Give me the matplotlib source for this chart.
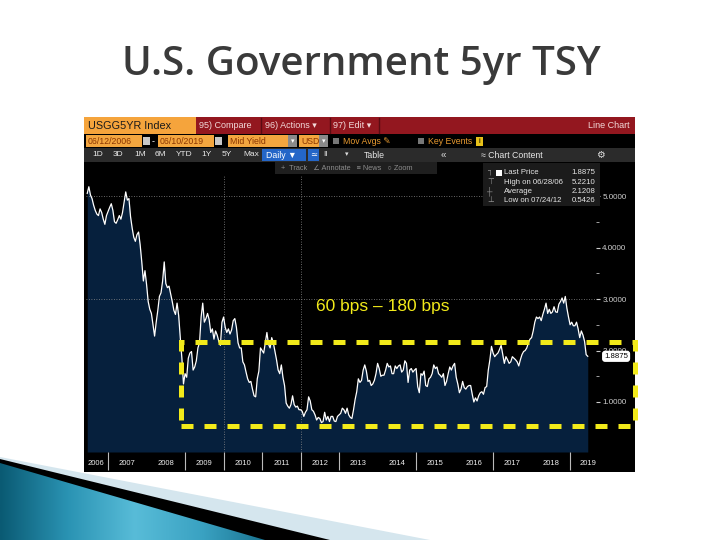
import numpy as np
import matplotlib
matplotlib.use("Agg")
import matplotlib.pyplot as plt
from matplotlib.patches import Rectangle, Polygon
from matplotlib.colors import LinearSegmentedColormap

plt.rcParams['font.family'] = ['Liberation Sans', 'DejaVu Sans']

y2006 = [5.05, 5.18, 5.02, 4.95, 4.82, 4.72, 4.65, 4.62, 4.75, 4.68, 4.55, 4.45, 4.62]
y2007 = [4.70, 4.78, 4.85, 4.72, 4.50, 4.47, 4.54, 4.62, 4.55, 4.68, 4.88, 5.08,
         4.92, 4.95, 4.60, 4.38, 4.20, 4.12, 4.25, 4.30, 4.05, 3.72, 3.35, 3.55]
y2008 = [3.28, 2.95, 2.80, 2.72, 2.50, 2.28, 2.55, 2.78, 3.05, 3.12, 3.35, 3.72,
         3.30, 3.22, 3.25, 3.10, 2.95, 2.78, 2.70, 2.92, 2.68, 2.25, 1.85, 1.35]
y2009 = [1.55, 1.48, 1.85, 1.95, 1.98, 1.62, 1.68, 1.80, 2.05, 2.15, 2.65, 2.92,
         2.55, 2.62, 2.72, 2.60, 2.35, 2.42, 2.22, 2.38, 2.30, 2.18, 2.10, 2.55]
y2010 = [2.65, 2.45, 2.35, 2.42, 2.32, 2.40, 2.58, 2.62, 2.45, 2.15, 2.05, 2.05,
         1.78, 1.72, 1.58, 1.45, 1.38, 1.40, 1.25, 1.12, 1.10, 1.45, 1.60, 2.05]
y2011 = [2.00, 1.95, 2.15, 2.35, 2.12, 2.05, 2.25, 2.15, 1.98, 1.82, 1.62, 1.55,
         1.72, 1.48, 1.32, 0.98, 0.92, 0.88, 0.95, 1.12, 0.95, 0.90, 0.92, 0.85]
y2012 = [0.85, 0.82, 0.72, 0.80, 0.85, 1.10, 1.02, 0.85, 0.82, 0.75, 0.65, 0.70,
         0.68, 0.60, 0.62, 0.80, 0.65, 0.72, 0.62, 0.72, 0.72, 0.63, 0.62, 0.72]
y2013 = [0.75, 0.78, 0.88, 0.85, 0.78, 0.88, 0.75, 0.70, 0.68, 0.85, 1.05, 1.20,
         1.45, 1.38, 1.42, 1.62, 1.72, 1.60, 1.40, 1.42, 1.32, 1.35, 1.42, 1.55]
y2014 = [1.75, 1.65, 1.50, 1.52, 1.52, 1.62, 1.75, 1.68, 1.70, 1.55, 1.55, 1.70,
         1.65, 1.70, 1.72, 1.58, 1.62, 1.80, 1.75, 1.38, 1.62, 1.65, 1.58, 1.62]
y2015 = [1.65, 1.30, 1.18, 1.55, 1.52, 1.60, 1.32, 1.30, 1.45, 1.48, 1.55, 1.72,
         1.65, 1.68, 1.55, 1.52, 1.48, 1.55, 1.32, 1.40, 1.55, 1.68, 1.62, 1.70]
y2016 = [1.75, 1.48, 1.35, 1.18, 1.25, 1.40, 1.28, 1.25, 1.30, 1.32, 1.32, 1.15,
         1.00, 1.08, 1.02, 1.12, 1.18, 1.20, 1.15, 1.28, 1.30, 1.62, 1.82, 2.08]
y2017 = [1.95, 1.88, 1.92, 1.95, 2.02, 2.10, 1.92, 1.75, 1.88, 1.82, 1.75, 1.78,
         1.88, 1.85, 1.82, 1.78, 1.70, 1.82, 1.92, 1.98, 2.00, 2.05, 2.15, 2.22]
y2018 = [2.25, 2.38, 2.55, 2.65, 2.62, 2.65, 2.58, 2.70, 2.80, 2.92, 2.72, 2.80,
         2.72, 2.75, 2.85, 2.75, 2.74, 2.90, 2.95, 3.02, 2.92, 3.05, 2.82, 2.65]
y2019 = [2.50, 2.55, 2.48, 2.48, 2.55, 2.42, 2.25, 2.38, 2.30, 2.18, 1.92, 1.8875]

year_labels = ['2006', '2007', '2008', '2009', '2010', '2011', '2012',
               '2013', '2014', '2015', '2016', '2017', '2018', '2019']
label_pos = [2006.68, 2007.5, 2008.5, 2009.5, 2010.5, 2011.5, 2012.5,
             2013.5, 2014.5, 2015.5, 2016.5, 2017.5, 2018.5, 2019.45]
sep_years = [2007, 2009, 2010, 2011, 2012, 2013, 2015, 2017, 2019]
right_ticks = [1, 2, 3, 4, 5]
right_labels = ['1.0000', '2.0000', '3.0000', '4.0000', '5.0000']
minor_ticks = [1.5, 2.5, 3.5, 4.5]

legend_names = ['Last Price', 'High on 06/28/06', 'Average', 'Low on 07/24/12']
legend_values = ['1.8875', '5.2210', '2.1208', '0.5426']
last_price = 1.8875

# highlighted range box (yellow dashed)
band_low, band_high = 0.534, 2.16
band_x0, band_x1 = 2008.88, 2020.68
band_text = '60 bps \u2013 180 bps'

vals = np.array(y2006 + y2007 + y2008 + y2009 + y2010 + y2011 + y2012 + y2013 +
                y2014 + y2015 + y2016 + y2017 + y2018 + y2019)
t = 2006 + 5.47 / 12 + np.arange(len(vals)) / 24

fig = plt.figure(figsize=(7.2, 5.4), dpi=100)
fig.patch.set_facecolor('white')

# canvas in pixel coords for the slide / terminal chrome
bg = fig.add_axes([0, 0, 1, 1], zorder=0)
fg = fig.add_axes([0, 0, 1, 1], zorder=2)
for c in (bg, fg):
    c.set_xlim(0, 720)
    c.set_ylim(540, 0)
    c.axis('off')
    c.patch.set_alpha(0)

fig.text(0.502, 1 - 65 / 540, 'U.S. Government 5yr TSY', fontsize=29, color='#3a3a3a',
         family='Open Sans', fontweight='semibold', ha='center', va='center')

# slide decoration bottom-left
bg.add_patch(Polygon([(0, 457), (430, 540), (0, 540)], color='#d5e6ee', lw=0))
bg.add_patch(Polygon([(0, 459), (330, 540), (0, 540)], color='black', lw=0))
teal = LinearSegmentedColormap.from_list('teal', ['#0a5a73', '#2a93b3', '#58bcd8', '#3aa2c2', '#17708d'])
im = bg.imshow(np.linspace(0, 1, 256)[None, :], extent=[0, 270, 540, 455], cmap=teal,
               aspect='auto', zorder=2)
tri = Polygon([(0, 463), (265, 540), (0, 540)], facecolor='none', edgecolor='none')
bg.add_patch(tri)
im.set_clip_path(tri)
bg.set_xlim(0, 720)
bg.set_ylim(540, 0)

# terminal panel
bg.add_patch(Rectangle((84, 117), 551, 355, color='black', lw=0))
bg.add_patch(Rectangle((84, 117), 112, 17, color='#f5a43c', lw=0))
bg.add_patch(Rectangle((196, 117), 439, 17, color='#93171f', lw=0))
for xs in (261, 330, 379):
    bg.plot([xs, xs], [118, 133], color='#5a0c12', lw=1)
bg.text(88, 126, 'USGG5YR Index', fontsize=7.8, color='#1a1a1a', va='center')
bg.text(199, 126, '95) Compare', fontsize=6.5, color='#f2d9d9', va='center')
bg.text(265, 126, '96) Actions \u25be', fontsize=6.5, color='#f2d9d9', va='center')
bg.text(333, 126, '97) Edit \u25be', fontsize=6.5, color='#f2d9d9', va='center')
bg.text(630, 126, 'Line Chart', fontsize=6.5, color='#f2d9d9', va='center', ha='right')

# row 2: date/field inputs
for x0, w, s in [(86, 56, '06/12/2006'), (158, 56, '06/10/2019'), (228, 60, 'Mid Yield'), (299, 20, 'USD')]:
    bg.add_patch(Rectangle((x0, 135), w, 12, color='#f3a63f', lw=0))
    bg.text(x0 + 2, 141.5, s, fontsize=6.3, color='#8a3500', va='center')
for x0 in (143, 215):
    bg.add_patch(Rectangle((x0, 137), 7, 8, color='#c8c8c8', lw=0))
for x0 in (288, 319):
    bg.add_patch(Rectangle((x0, 135), 9, 12, color='#8a8a8a', lw=0))
    bg.text(x0 + 4.5, 141.5, '\u25be', fontsize=5, color='white', ha='center', va='center')
bg.text(152, 141.5, '-', fontsize=6.5, color='white', va='center')
bg.add_patch(Rectangle((333, 138), 6, 6, color='#777777', lw=0))
bg.text(343, 141.5, 'Mov Avgs \u270e', fontsize=6.3, color='#e89a30', va='center')
bg.add_patch(Rectangle((418, 138), 6, 6, color='#777777', lw=0))
bg.text(428, 141.5, 'Key Events', fontsize=6.3, color='#e89a30', va='center')
bg.add_patch(Rectangle((476, 137), 7, 9, color='#e8c21a', lw=0))
bg.text(479.5, 141.5, 'i', fontsize=5.5, color='black', ha='center', va='center')

# row 3: period buttons
bg.add_patch(Rectangle((84, 148), 551, 14, color='#2b2b2b', lw=0))
for x0, s in [(92, '1D'), (113, '3D'), (134, '1M'), (155, '6M'), (176, 'YTD'),
              (201, '1Y'), (222, '5Y'), (243, 'Max')]:
    bg.text(x0, 155, s, fontsize=6, color='#e6e6e6', va='center')
bg.add_patch(Rectangle((262, 149), 44, 12, color='#2466c8', lw=0))
bg.text(266, 155, 'Daily \u25bc', fontsize=6.3, color='white', va='center')
bg.add_patch(Rectangle((308, 149), 11, 12, color='#2466c8', lw=0))
bg.text(313.5, 155, '\u2243', fontsize=6, color='white', ha='center', va='center')
bg.text(323, 155, 'II', fontsize=6, color='#dddddd', va='center')
bg.text(345, 155, '\u25be', fontsize=5, color='#dddddd', va='center')
bg.text(364, 155, 'Table', fontsize=6.3, color='#e6e6e6', va='center')
bg.text(441, 155, '\u00ab', fontsize=7, color='#dddddd', va='center')
bg.text(481, 155, '\u2248 Chart Content', fontsize=6.3, color='#e6e6e6', va='center')
bg.text(600, 155, '\u2699', fontsize=7, color='#dddddd', va='center', ha='center')

# chart
ax = fig.add_axes([86 / 720, 1 - 452 / 540, 510 / 720, 277 / 540], zorder=1)
ax.set_facecolor('black')
ax.set_xlim(2006.424, 2019.67)
ax.set_ylim(0.029, 5.408)
ax.fill_between(t, vals, 0.029, color='#06203d', lw=0, zorder=1)
for g in (3, 5):
    ax.axhline(g, color='#8a8a8a', ls=(0, (1, 2)), lw=0.6, zorder=2)
for g in (2010, 2012):
    ax.axvline(g, color='#8a8a8a', ls=(0, (1, 2)), lw=0.6, zorder=2)
ax.plot(t, vals, color='white', lw=0.9, zorder=3)
for sp in ax.spines.values():
    sp.set_visible(False)

ax.yaxis.tick_right()
ax.set_yticks(right_ticks)
ax.set_yticklabels(right_labels)
ax.set_yticks(minor_ticks, minor=True)
ax.tick_params(axis='y', which='major', direction='out', length=3, width=0.8,
               color='#cccccc', labelcolor='#cfcfcf', labelsize=5.8, pad=1.5)
ax.tick_params(axis='y', which='minor', direction='out', length=2, width=0.6,
               color='#bbbbbb', pad=6)

ax.set_xticks(sep_years)
ax.set_xticklabels([''] * len(sep_years))
ax.set_xticks(label_pos, minor=True)
ax.set_xticklabels(year_labels, minor=True)
ax.tick_params(axis='x', which='major', direction='out', length=13, width=0.8, color='#bbbbbb')
ax.tick_params(axis='x', which='minor', length=0, labelsize=5.5, labelcolor='#eeeeee', pad=6)

# last price tag
ax.text(1.016, last_price, legend_values[0], transform=ax.get_yaxis_transform(), fontsize=5.6,
        color='black', va='center', ha='left', clip_on=False, zorder=6,
        bbox=dict(boxstyle='round,pad=0.18,rounding_size=0.3', fc='white', ec='white'))

# yellow dashed range box + label
ax.add_patch(Rectangle((band_x0, band_low), band_x1 - band_x0, band_high - band_low,
                       fill=False, ec='#f2ea1a', lw=3.6, ls=(0, (2.4, 2.2)),
                       clip_on=False, zorder=7))
ax.text(2014.14, 2.845, band_text, fontsize=12.5, color='#f2ea1a', ha='center',
        va='center', zorder=7)

# toolbar over chart and legend panel
fg.add_patch(Rectangle((275, 162), 162, 12, color='#1f1f1f', lw=0))
fg.text(281, 168, '+  Track   \u2220 Annotate   \u2261 News   \u25cb Zoom', fontsize=5.3,
        color='#8c8c8c', va='center')
fg.add_patch(Rectangle((483, 163), 117, 43, color='#1b1b1b', lw=0))
icons = ['\u2510', '\u22a4', '\u253c', '\u22a5']
for i, (nm, v) in enumerate(zip(legend_names, legend_values)):
    yy = 173 + i * 9.2
    fg.text(487, yy, icons[i], fontsize=5.5, color='#9a9a9a', va='center')
    fg.text(504, yy, nm, fontsize=5.6, color='#e6e6e6', va='center')
    fg.text(595, yy, v, fontsize=5.6, color='#e6e6e6', va='center', ha='right')
fg.add_patch(Rectangle((496, 170), 6, 6, color='white', lw=0))

fig.savefig('out.png', dpi=100)
